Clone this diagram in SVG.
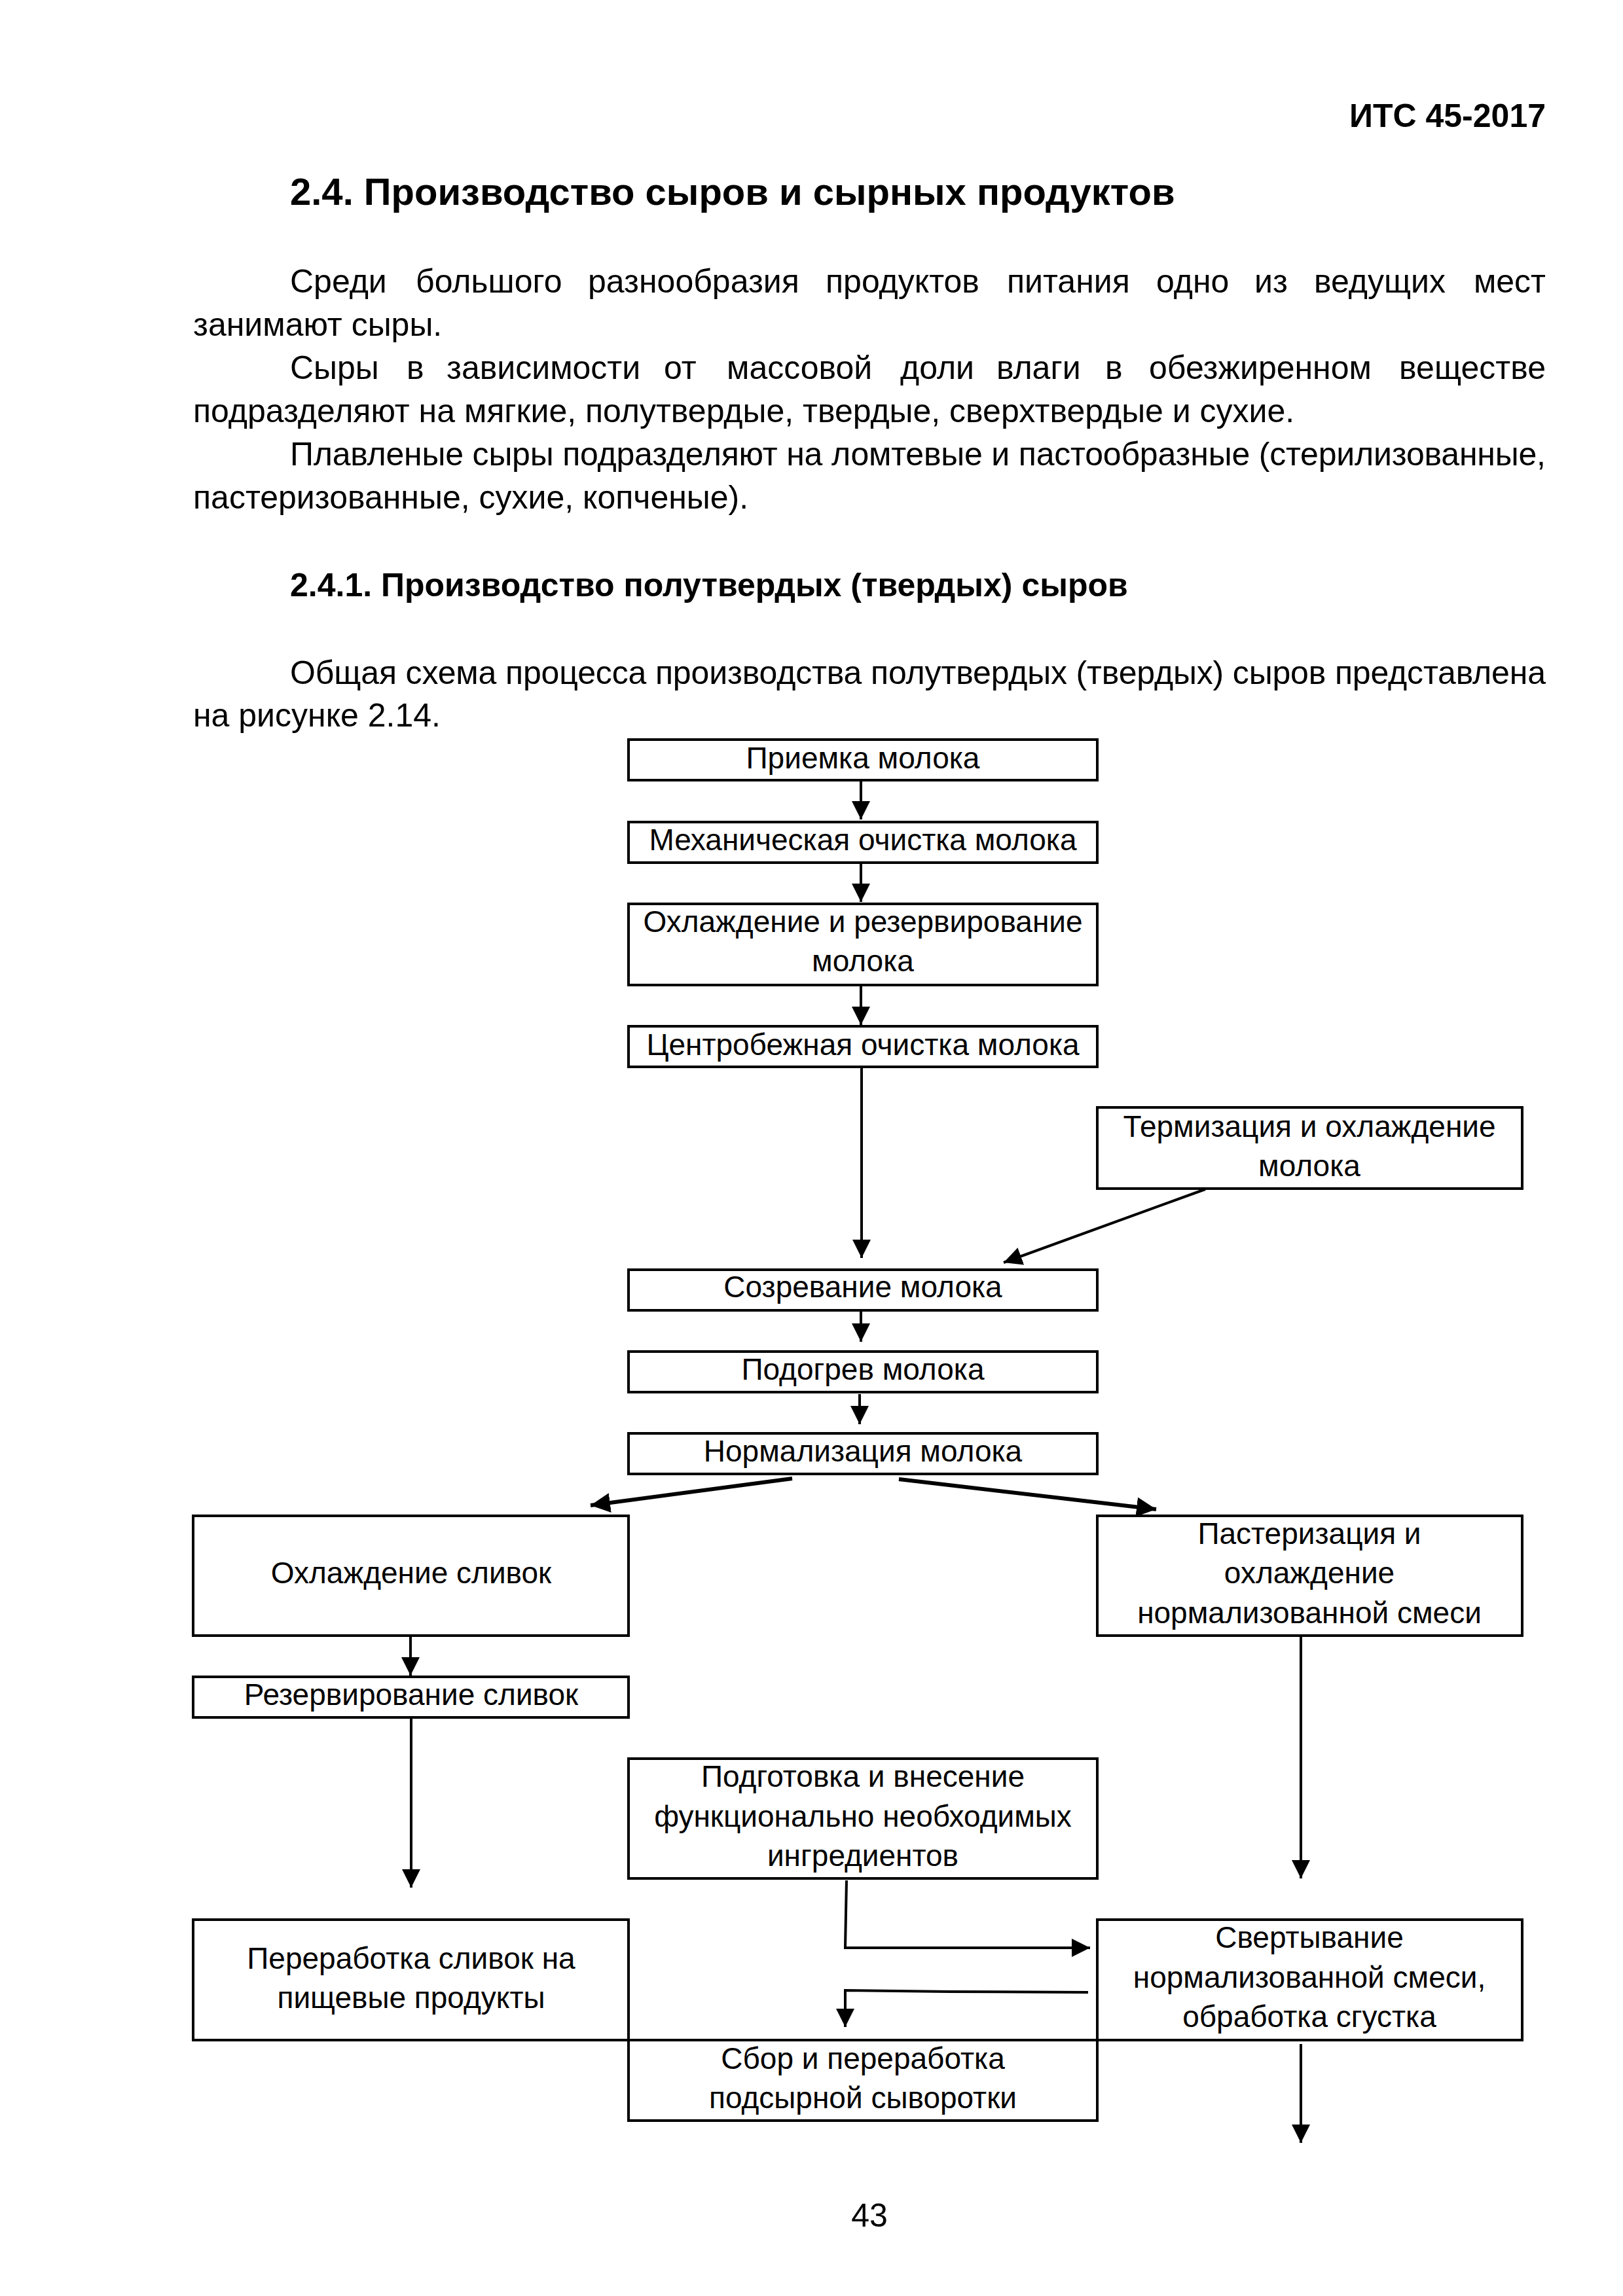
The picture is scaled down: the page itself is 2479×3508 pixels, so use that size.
<svg xmlns="http://www.w3.org/2000/svg" width="2479" height="3508" viewBox="0 0 2479 3508">
<style>
text{font-family:"Liberation Sans",Arial,sans-serif;fill:#000}
.hdr{font-size:50px;font-weight:bold}
.h1{font-size:58px;font-weight:bold}
.h2{font-size:50px;font-weight:bold}
.body{font-size:50px}
.n{font-size:46px;text-anchor:middle}
.box{fill:#fff;stroke:#000;stroke-width:4}
.ln{fill:none;stroke:#000;stroke-width:4}
.thick{fill:none;stroke:#000;stroke-width:6}
</style>
<defs>
<marker id="ah" viewBox="0 0 10 10" refX="10" refY="5" markerWidth="7" markerHeight="7" markerUnits="strokeWidth" orient="auto">
<path d="M0,0 L10,5 L0,10 z" fill="#000"/>
</marker>
<marker id="ah2" viewBox="0 0 10 10" refX="10" refY="5" markerWidth="5" markerHeight="5" markerUnits="strokeWidth" orient="auto">
<path d="M0,0 L10,5 L0,10 z" fill="#000"/>
</marker>
</defs>
<rect width="2479" height="3508" fill="#fff"/>

<text class="hdr" x="2361" y="194" text-anchor="end">ИТС 45-2017</text>
<text class="h1" x="443" y="313">2.4. Производство сыров и сырных продуктов</text>

<text class="body" y="447"><tspan x="443">Среди</tspan><tspan x="635">большого</tspan><tspan x="898">разнообразия</tspan><tspan x="1261">продуктов</tspan><tspan x="1538">питания</tspan><tspan x="1766">одно</tspan><tspan x="1916">из</tspan><tspan x="2007">ведущих</tspan><tspan x="2361" text-anchor="end">мест</tspan></text>
<text class="body" x="295" y="513">занимают сыры.</text>
<text class="body" y="579"><tspan x="443">Сыры</tspan><tspan x="621">в</tspan><tspan x="682">зависимости</tspan><tspan x="1014">от</tspan><tspan x="1110">массовой</tspan><tspan x="1375">доли</tspan><tspan x="1522">влаги</tspan><tspan x="1688">в</tspan><tspan x="1755">обезжиренном</tspan><tspan x="2361" text-anchor="end">веществе</tspan></text>
<text class="body" x="295" y="645">подразделяют на мягкие, полутвердые, твердые, сверхтвердые и сухие.</text>
<text class="body" x="443" y="711" textLength="1918" lengthAdjust="spacing">Плавленые сыры подразделяют на ломтевые и пастообразные (стерилизованные,</text>
<text class="body" x="295" y="777">пастеризованные, сухие, копченые).</text>
<text class="h2" x="443" y="911">2.4.1. Производство полутвердых (твердых) сыров</text>
<text class="body" x="443" y="1045" textLength="1918" lengthAdjust="spacing">Общая схема процесса производства полутвердых (твердых) сыров представлена</text>
<text class="body" x="295" y="1110">на рисунке 2.14.</text>

<g id="connectors">
<line class="ln" x1="1315" y1="1193" x2="1315" y2="1252" marker-end="url(#ah)"/>
<line class="ln" x1="1315" y1="1319" x2="1315" y2="1378" marker-end="url(#ah)"/>
<line class="ln" x1="1315" y1="1507" x2="1315" y2="1566" marker-end="url(#ah)"/>
<line class="ln" x1="1316" y1="1632" x2="1316" y2="1922" marker-end="url(#ah)"/>
<line class="ln" x1="1841" y1="1817" x2="1533" y2="1929" marker-end="url(#ah)"/>
<line class="ln" x1="1315" y1="2004" x2="1315" y2="2050" marker-end="url(#ah)"/>
<line class="ln" x1="1313" y1="2130" x2="1313" y2="2176" marker-end="url(#ah)"/>
<line class="thick" x1="1210" y1="2259" x2="902" y2="2300" marker-end="url(#ah2)"/>
<line class="thick" x1="1373" y1="2260" x2="1766" y2="2306" marker-end="url(#ah2)"/>
<line class="ln" x1="627" y1="2501" x2="627" y2="2560" marker-end="url(#ah)"/>
<line class="ln" x1="628" y1="2626" x2="628" y2="2884" marker-end="url(#ah)"/>
<line class="ln" x1="1987" y1="2501" x2="1987" y2="2870" marker-end="url(#ah)"/>
<polyline class="ln" points="1293,2873 1291,2976 1665,2976" marker-end="url(#ah)"/>
<polyline class="ln" points="1662,3044 1451,3043 1291,3041 1291,3097" marker-end="url(#ah)"/>
<line class="ln" x1="1987" y1="3123" x2="1987" y2="3274" marker-end="url(#ah)"/>
</g>

<g id="n1"><rect class="box" x="960" y="1130" width="716" height="62"/><text class="n" x="1318" y="1174">Приемка молока</text></g>
<g id="n2"><rect class="box" x="960" y="1256" width="716" height="62"/><text class="n" x="1318" y="1299">Механическая очистка молока</text></g>
<g id="n3"><rect class="box" x="960" y="1381" width="716" height="124"/><text class="n" x="1318" y="1424">Охлаждение и резервирование</text><text class="n" x="1318" y="1484">молока</text></g>
<g id="n4"><rect class="box" x="960" y="1568" width="716" height="62"/><text class="n" x="1318" y="1612">Центробежная очистка молока</text></g>
<g id="n5"><rect class="box" x="1676" y="1692" width="649" height="124"/><text class="n" x="2000" y="1737">Термизация и охлаждение</text><text class="n" x="2000" y="1797">молока</text></g>
<g id="n6"><rect class="box" x="960" y="1940" width="716" height="62"/><text class="n" x="1318" y="1982">Созревание молока</text></g>
<g id="n7"><rect class="box" x="960" y="2065" width="716" height="62"/><text class="n" x="1318" y="2108">Подогрев молока</text></g>
<g id="n8"><rect class="box" x="960" y="2190" width="716" height="62"/><text class="n" x="1318" y="2233">Нормализация молока</text></g>
<g id="n9"><rect class="box" x="295" y="2316" width="665" height="183"/><text class="n" x="628" y="2419">Охлаждение сливок</text></g>
<g id="n10"><rect class="box" x="1676" y="2316" width="649" height="183"/><text class="n" x="2000" y="2359">Пастеризация и</text><text class="n" x="2000" y="2419">охлаждение</text><text class="n" x="2000" y="2480">нормализованной смеси</text></g>
<g id="n11"><rect class="box" x="295" y="2562" width="665" height="62"/><text class="n" x="628" y="2605">Резервирование сливок</text></g>
<g id="n12"><rect class="box" x="960" y="2687" width="716" height="183"/><text class="n" x="1318" y="2730">Подготовка и внесение</text><text class="n" x="1318" y="2791">функционально необходимых</text><text class="n" x="1318" y="2851">ингредиентов</text></g>
<g id="n13"><rect class="box" x="295" y="2933" width="665" height="184"/><text class="n" x="628" y="3008">Переработка сливок на</text><text class="n" x="628" y="3068">пищевые продукты</text></g>
<g id="n14"><rect class="box" x="1676" y="2933" width="649" height="184"/><text class="n" x="2000" y="2976">Свертывание</text><text class="n" x="2000" y="3037">нормализованной смеси,</text><text class="n" x="2000" y="3097">обработка сгустка</text></g>
<g id="n15"><rect class="box" x="960" y="3117" width="716" height="123"/><text class="n" x="1318" y="3161">Сбор и переработка</text><text class="n" x="1318" y="3221">подсырной сыворотки</text></g>

<text class="body" x="1328" y="3402" text-anchor="middle">43</text>
</svg>
